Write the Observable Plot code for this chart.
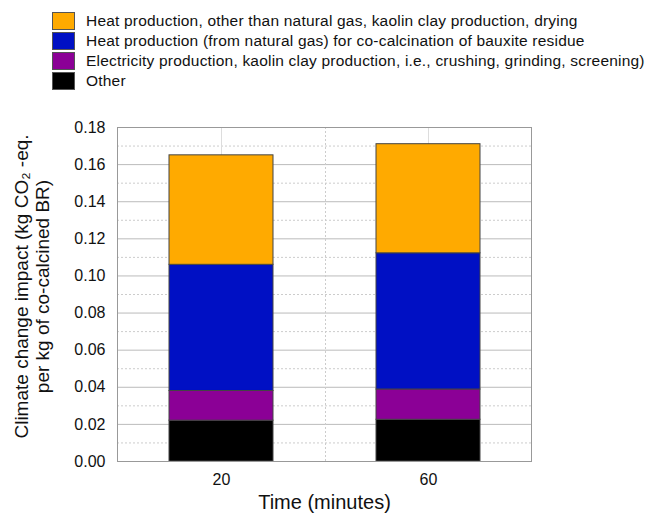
<!DOCTYPE html>
<html>
<head>
<meta charset="utf-8">
<script src="https://cdn.jsdelivr.net/npm/d3@7"></script>
<script src="https://cdn.jsdelivr.net/npm/@observablehq/plot@0.6"></script>
<style>
  html, body { margin: 0; padding: 0; background: #fff; }
  body { width: 646px; height: 521px; overflow: hidden; font-family: "Liberation Sans", Arial, sans-serif; }
  #legend { position: relative; height: 100px; }
  .row { position: absolute; left: 52px; height: 20px; display: flex; align-items: center; }
  .sw { width: 21px; height: 16px; border: 1px solid #555; box-sizing: content-box; }
  .lbl { position: absolute; left: 34px; font-size: 15.5px; letter-spacing: 0.2px; color: #111; white-space: nowrap; top: 0px; line-height: 20px; }
</style>
</head>
<body>
<div id="legend"></div>
<div id="chart"></div>
<script>
const times = ["20", "60"];
const seriesNames = [
  "Other",
  "Electricity production, kaolin clay production, i.e., crushing, grinding, screening)",
  "Heat production (from natural gas) for co-calcination of bauxite residue",
  "Heat production, other than natural gas, kaolin clay production, drying"
];
const seriesColors = ["#000000", "#8B0096", "#0010C4", "#FFAA00"];
const otherVals = [0.022, 0.0225];
const electricityVals = [0.016, 0.0163];
const naturalGasVals = [0.068, 0.0734];
const heatOtherVals = [0.059, 0.0588];
const yTicks = [0, 0.02, 0.04, 0.06, 0.08, 0.10, 0.12, 0.14, 0.16, 0.18];
const yMinor = [0.01, 0.03, 0.05, 0.07, 0.09, 0.11, 0.13, 0.15, 0.17];

const seriesVals = [otherVals, electricityVals, naturalGasVals, heatOtherVals];
const data = [];
seriesNames.forEach((s, i) => times.forEach((t, j) => data.push({time: t, series: s, value: seriesVals[i][j]})));

// legend (top to bottom: reversed order)
const legend = document.getElementById("legend");
[3, 2, 1, 0].forEach((i, k) => {
  const row = document.createElement("div");
  row.className = "row";
  row.style.top = (11 + 20 * k) + "px";
  row.innerHTML = `<div class="sw" style="background:${seriesColors[i]}"></div><div class="lbl">${seriesNames[i]}</div>`;
  legend.appendChild(row);
});

const chart = Plot.plot({
  width: 646,
  height: 421,
  marginTop: 27,
  marginBottom: 60,
  marginLeft: 117,
  marginRight: 115,
  style: {fontFamily: "Liberation Sans, Arial, sans-serif", fontSize: "16px", color: "#111", background: "#fff"},
  x: {domain: times, paddingInner: 0.5, paddingOuter: 0.25, label: null},
  y: {domain: [0, 0.18], label: null},
  color: {domain: seriesNames, range: seriesColors},
  marks: [
    Plot.ruleY(yMinor, {stroke: "#ccc", strokeDasharray: "2,2", strokeWidth: 1}),
    Plot.ruleY(yTicks, {stroke: "#bbb", strokeWidth: 1}),
    Plot.ruleX(times, {stroke: "#ddd", strokeWidth: 1}),
    Plot.ruleX([times[0]], {dx: 104, stroke: "#ccc", strokeDasharray: "2,2", strokeWidth: 1}),
    Plot.barY(data, {x: "time", y: "value", fill: "series", stroke: "#444", strokeWidth: 1, order: null}),
    Plot.frame({stroke: "#999", strokeWidth: 1}),
    Plot.axisY(yTicks, {tickSize: 0, tickPadding: 12, tickFormat: d => d.toFixed(2), fontSize: 16}),
    Plot.axisX(times, {tickSize: 0, tickPadding: 12, fontSize: 16}),
    Plot.text(["Time (minutes)"], {frameAnchor: "bottom", dy: 47, fontSize: 20, text: d => d}),
    Plot.text(["Climate change impact (kg CO\u2082 -eq.\nper kg of co-calcined BR)"], {frameAnchor: "left", textAnchor: "middle", dx: -86, dy: -8, rotate: -90, fontSize: 19, lineHeight: 1.15, text: d => d})
  ]
});
document.getElementById("chart").appendChild(chart);
</script>
</body>
</html>
